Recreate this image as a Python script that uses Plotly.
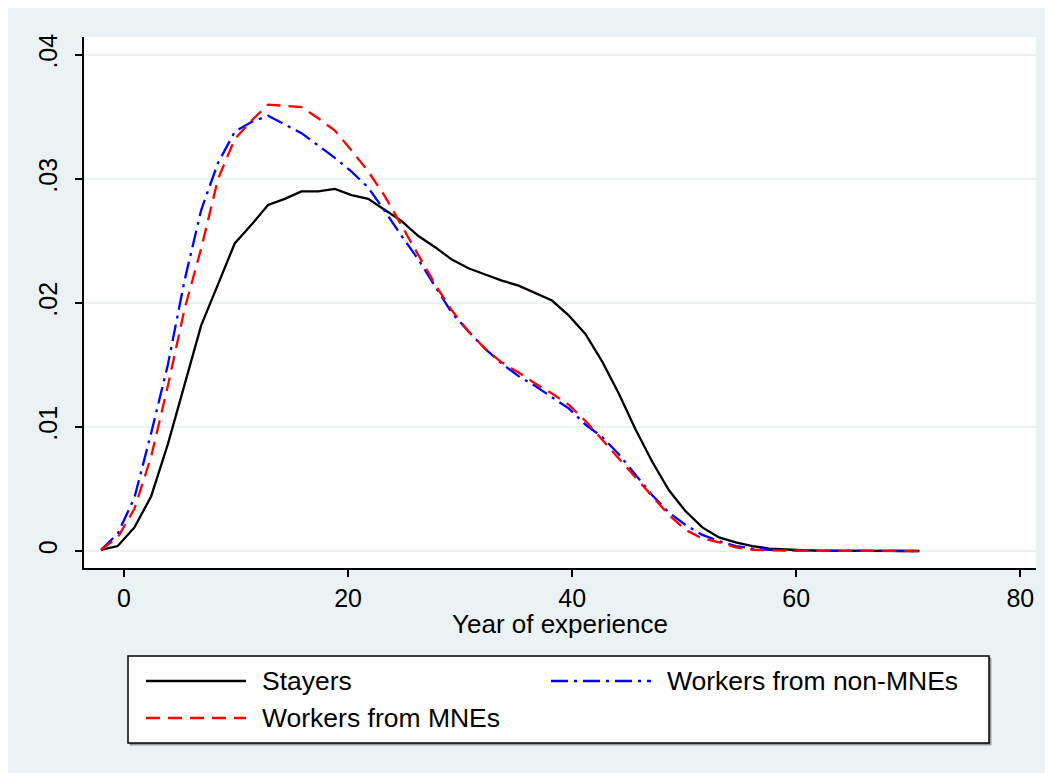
import plotly.graph_objects as go

# Kernel-density grid (years of experience)
experience = [-2.05, -0.56, 0.93, 2.42, 3.91, 5.40, 6.89, 8.39, 9.88, 11.37,
              12.86, 14.35, 15.84, 17.33, 18.82, 20.31, 21.80, 23.29, 24.78, 26.28,
              27.77, 29.26, 30.75, 32.24, 33.73, 35.22, 36.71, 38.20, 39.69, 41.18,
              42.67, 44.16, 45.66, 47.15, 48.64, 50.13, 51.62, 53.11, 54.60, 56.09,
              57.58, 59.07, 60.56, 62.05, 63.55, 65.04, 66.53, 68.02, 69.51, 71.00]

stayers = [0.0001, 0.0004, 0.0019, 0.0044, 0.0086, 0.0134, 0.0182, 0.0215, 0.0248, 0.0263,
           0.0279, 0.0284, 0.0290, 0.0290, 0.0292, 0.0287, 0.0284, 0.0275, 0.0266, 0.0254,
           0.0245, 0.0235, 0.0228, 0.0223, 0.0218, 0.0214, 0.0208, 0.0202, 0.0190, 0.0175,
           0.0153, 0.0127, 0.0098, 0.0072, 0.0049, 0.0032, 0.0019, 0.0011, 0.0007, 0.0004,
           0.0002, 0.0001, 0.00006, 0.00003, 0.00002, 0.00001, 0.00001, 0.0, 0.0, 0.0]

non_mnes = [0.0001, 0.0014, 0.0043, 0.0095, 0.0150, 0.0218, 0.0275, 0.0313, 0.0338, 0.0346,
            0.0351, 0.0344, 0.0337, 0.0327, 0.0317, 0.0306, 0.0293, 0.0274, 0.0254, 0.0235,
            0.0213, 0.0192, 0.0177, 0.0163, 0.0151, 0.0141, 0.0133, 0.0124, 0.0115, 0.0102,
            0.0092, 0.0078, 0.0061, 0.0045, 0.0031, 0.0021, 0.0013, 0.0008, 0.0004, 0.0002,
            0.0001, 0.00005, 0.00003, 0.00001, 0.00001, 0.0, 0.0, 0.0, 0.0, 0.0]

mnes = [0.0001, 0.0011, 0.0034, 0.0076, 0.0133, 0.0195, 0.0244, 0.0300, 0.0332, 0.0347,
        0.0360, 0.0359, 0.0358, 0.0349, 0.0339, 0.0323, 0.0306, 0.0286, 0.0262, 0.0238,
        0.0215, 0.0194, 0.0177, 0.0163, 0.0152, 0.0144, 0.0135, 0.0127, 0.0118, 0.0105,
        0.0090, 0.0075, 0.0059, 0.0044, 0.0029, 0.0017, 0.0010, 0.0007, 0.0003, 0.0001,
        0.00005, 0.00003, 0.00002, 0.00001, 0.0, 0.0, 0.0, 0.0, 0.0, 0.0]

series_names = ["Stayers", "Workers from non-MNEs", "Workers from MNEs"]
x_ticks = [0, 20, 40, 60, 80]
y_ticks = [0, 0.01, 0.02, 0.03, 0.04]
y_tick_labels = ["0", ".01", ".02", ".03", ".04"]
x_title = "Year of experience"

FONT = "Liberation Sans, Arial, sans-serif"
BG = "#EAF2F3"
styles = [
    dict(color="black", width=2.3, dash="solid"),
    dict(color="#0000FF", width=2.3, dash="17px,6px,3px,6px"),
    dict(color="#FF0000", width=2.3, dash="14px,8px"),
]

fig = go.Figure()
for name, ys, st in zip(series_names, [stayers, non_mnes, mnes], styles):
    fig.add_trace(go.Scatter(x=experience, y=ys, mode="lines", name=name,
                             line=st, showlegend=False))

# Plot-area pixel geometry (figure coordinates; page adds ~7px offset)
OFF = 7
W, H = 1053, 773
L, R, T, B = 83 - OFF, 1035 - OFF, 36 - OFF, 567 - OFF
pw, ph = R - L, B - T

def px(x):
    return (x - OFF - L) / pw

def py(y):
    return (B - (y - OFF)) / ph

fig.update_layout(
    width=W, height=H,
    margin=dict(l=L, r=W - R, t=T, b=H - B, autoexpand=False),
    paper_bgcolor=BG, plot_bgcolor="white",
    font=dict(family=FONT, size=26, color="black"),
    xaxis=dict(range=[-3.57, 81.4], tickvals=x_ticks, ticks="outside", ticklen=7,
               tickwidth=1.5, tickcolor="black", showline=True, linecolor="black",
               linewidth=1.5, showgrid=False, zeroline=False,
               tickfont=dict(size=25)),
    yaxis=dict(range=[-0.00137, 0.04145], tickvals=y_ticks, ticktext=y_tick_labels,
               tickangle=-90, ticks="outside", ticklen=7, tickwidth=1.5,
               tickcolor="black", showline=True, linecolor="black", linewidth=1.5,
               showgrid=True, gridcolor=BG, gridwidth=2, zeroline=False,
               tickfont=dict(size=25), ticklabelstandoff=8),
)

# X-axis title
fig.add_annotation(text=x_title, xref="paper", yref="paper", x=px(559), y=py(623),
                   xanchor="center", yanchor="middle", showarrow=False,
                   font=dict(size=26, family=FONT))

# Manual legend box (two columns, Stata style)
box = dict(x0=px(127), x1=px(988), y0=py(742), y1=py(655))
fig.add_shape(type="rect", xref="paper", yref="paper",
              x0=box["x0"] + 2 / pw, x1=box["x1"] + 2 / pw,
              y0=box["y0"] - 2 / ph, y1=box["y1"] - 2 / ph,
              line=dict(color="#999999", width=1), fillcolor="#999999", layer="below")
fig.add_shape(type="rect", xref="paper", yref="paper", **box,
              line=dict(color="black", width=1.5), fillcolor="white", layer="below")

legend_pos = [(145, 680), (550, 680), (145, 717)]
for name, st, (lx, ly) in zip(series_names, styles, legend_pos):
    fig.add_shape(type="line", xref="paper", yref="paper",
                  x0=px(lx), x1=px(lx + 100), y0=py(ly), y1=py(ly),
                  line=st)
    fig.add_annotation(text=name, xref="paper", yref="paper",
                       x=px(lx + 114), y=py(ly), xanchor="left", yanchor="middle",
                       showarrow=False, font=dict(size=26.5, family=FONT))

fig.write_html("out.html")
